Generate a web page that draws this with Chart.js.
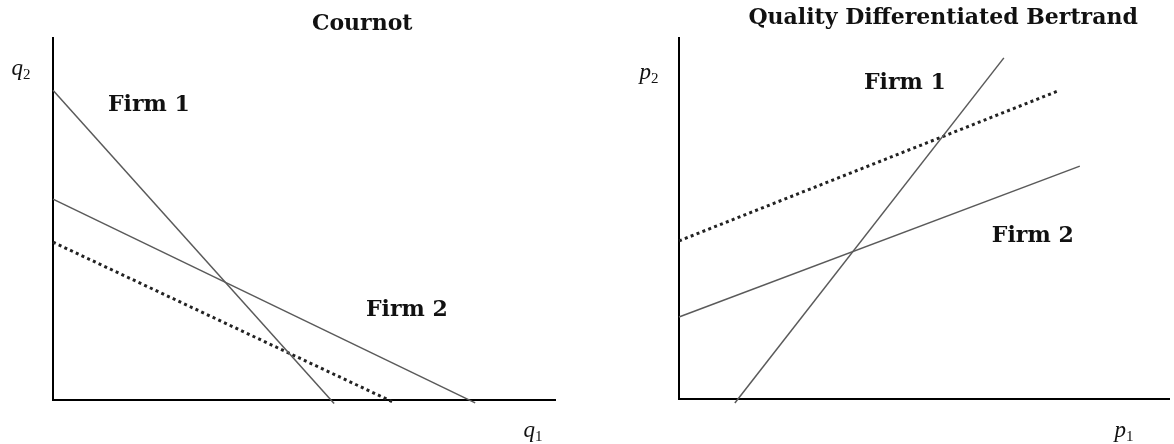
<!DOCTYPE html>
<html>
<head>
<meta charset="utf-8">
<script src="https://cdn.jsdelivr.net/npm/chart.js@4/dist/chart.umd.min.js"></script>
<style>
  body { margin: 0; background: #fff; }
  #wrap { position: relative; width: 1174px; height: 444px; }
  #left { position: absolute; left: 0; top: 0; }
  #right { position: absolute; left: 600px; top: 0; }
</style>
</head>
<body>
<div id="wrap">
  <canvas id="left" width="600" height="444"></canvas>
  <canvas id="right" width="574" height="444"></canvas>
</div>
<script>
// Cournot reaction curves (q1, q2)
var cournotFirm1 = [{x: 0, y: 8.56}, {x: 5.6, y: -0.1}];
var cournotFirm2 = [{x: 0, y: 5.55}, {x: 8.41, y: -0.08}];
var cournotShift = [{x: 0, y: 4.36}, {x: 6.81, y: -0.08}];

// Bertrand reaction curves (p1, p2)
var bertrandFirm1 = [{x: 1.14, y: -0.11}, {x: 6.63, y: 9.45}];
var bertrandFirm2 = [{x: 0, y: 2.27}, {x: 8.18, y: 6.45}];
var bertrandShift = [{x: 0, y: 4.38}, {x: 7.73, y: 8.53}];

var titles = ["Cournot", "Quality Differentiated Bertrand"];
var firmLabels = ["Firm 1", "Firm 2"];

var solid = "#5a5a5a";

// draws titles, firm labels and axis letters at data positions
var textPlugin = {
  id: "texts",
  afterDraw: function(chart, args, opts) {
    var ctx = chart.ctx;
    var xs = chart.scales.x, ys = chart.scales.y;
    ctx.save();
    ctx.fillStyle = "#111";
    ctx.textAlign = "center";
    ctx.textBaseline = "middle";
    opts.items.forEach(function(it) {
      var px = xs.getPixelForValue(it.x), py = ys.getPixelForValue(it.y);
      if (it.sub) {
        ctx.font = "italic 23px 'Liberation Serif'";
        ctx.textAlign = "right";
        ctx.fillText(it.text, px + 1, py - 1);
        ctx.font = "15px 'Liberation Serif'";
        ctx.textAlign = "left";
        ctx.fillText(it.sub, px + 1, py + 5);
        ctx.textAlign = "center";
      } else {
        ctx.font = "bold " + (it.size || 22) + "px 'DejaVu Serif'";
        ctx.fillText(it.text, px, py);
      }
    });
    ctx.restore();
  }
};

function line(data, dotted) {
  return {
    data: data,
    showLine: true,
    pointRadius: 0,
    borderColor: dotted ? "#222" : solid,
    borderWidth: dotted ? 3 : 1.5,
    borderDash: dotted ? [3, 3.3] : [],
    clip: 8
  };
}

function makeChart(id, sets, pad, items) {
  return new Chart(document.getElementById(id), {
    type: "scatter",
    data: { datasets: sets },
    options: {
      responsive: false,
      animation: false,
      layout: { padding: pad },
      plugins: { legend: { display: false }, tooltip: { enabled: false }, texts: { items: items } },
      scales: {
        x: {
          type: "linear", min: 0, max: 10,
          grid: { display: false },
          border: { display: true, color: "#000", width: 2 },
          ticks: { display: false },
          afterFit: function(s) { s.height = 0; }
        },
        y: {
          type: "linear", min: 0, max: 10,
          grid: { display: false },
          border: { display: true, color: "#000", width: 2 },
          ticks: { display: false },
          afterFit: function(s) { s.width = 0; }
        }
      }
    },
    plugins: [textPlugin]
  });
}

makeChart("left",
  [line(cournotFirm1), line(cournotFirm2), line(cournotShift, true)],
  { left: 53, right: 45, top: 38, bottom: 44 },
  [
    { text: titles[0], x: 6.16, y: 10.39 },
    { text: firmLabels[0], x: 1.91, y: 8.15 },
    { text: firmLabels[1], x: 7.05, y: 2.49 },
    { text: "q", sub: "2", x: -0.62, y: 9.12 },
    { text: "q", sub: "1", x: 9.58, y: -0.88 }
  ]);

makeChart("right",
  [line(bertrandFirm1), line(bertrandFirm2), line(bertrandShift, true)],
  { left: 79, right: 5, top: 38, bottom: 45 },
  [
    { text: titles[1], x: 5.39, y: 10.55 },
    { text: firmLabels[0], x: 4.61, y: 8.75 },
    { text: firmLabels[1], x: 7.22, y: 4.52 },
    { text: "p", sub: "2", x: -0.59, y: 9.0 },
    { text: "p", sub: "1", x: 9.1, y: -0.91 }
  ]);
</script>
</body>
</html>
